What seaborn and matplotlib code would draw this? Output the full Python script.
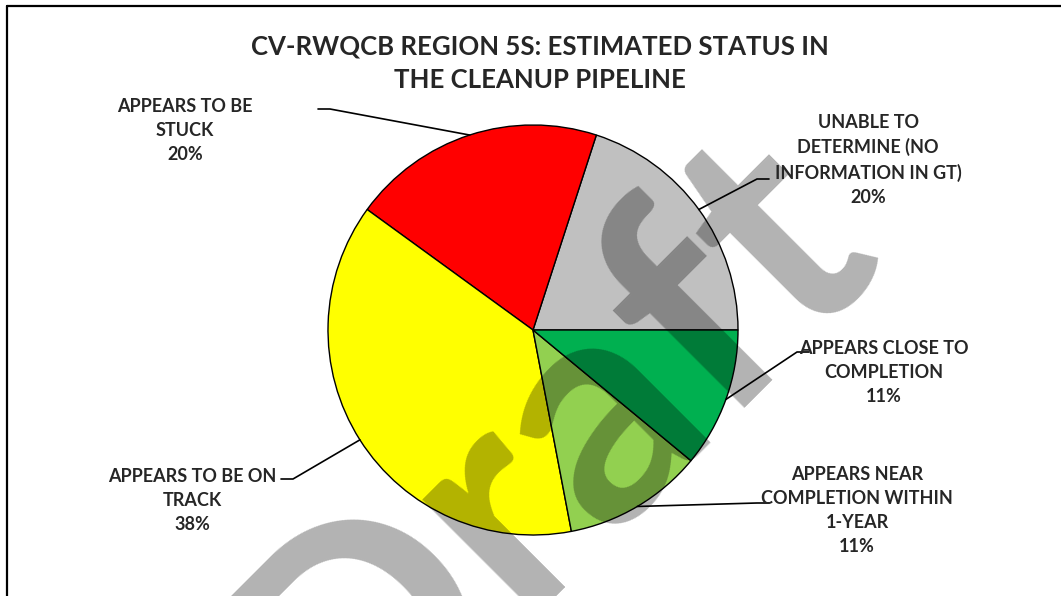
import numpy as np
import matplotlib
matplotlib.use("Agg")
import matplotlib.pyplot as plt
import seaborn as sns

# data
categories = [
    "UNABLE TO\nDETERMINE (NO\nINFORMATION IN GT)",
    "APPEARS TO BE\nSTUCK",
    "APPEARS TO BE ON\nTRACK",
    "APPEARS NEAR\nCOMPLETION WITHIN\n1-YEAR",
    "APPEARS CLOSE TO\nCOMPLETION",
]
shares = [20, 20, 38, 11, 11]
colors = ["#C0C0C0", "#FF0000", "#FFFF00", "#92D050", "#00B050"]
title = "CV-RWQCB REGION 5S: ESTIMATED STATUS IN\nTHE CLEANUP PIPELINE"

# label placement (pixels, y measured from the top) and leader elbow
label_pos = [(868, 160), (185, 131), (192, 500), (857, 510), (884, 372)]
elbows = [(757, 179), (330, 109), (293, 479), (757, 503), (797, 352)]
elbow_side = [1, -1, -1, 1, 1]

W, H = 1061, 596
sns.set_theme(style="white")
plt.rcParams["font.family"] = ["Lato", "DejaVu Sans"]

fig = plt.figure(figsize=(W / 100, H / 100), dpi=100)
ax = fig.add_axes([0, 0, 1, 1])

cx, cy, r = 533, H - 330, 205
wedges, _ = ax.pie(shares, colors=colors, startangle=0, counterclock=True,
                   center=(cx, cy), radius=r,
                   wedgeprops=dict(edgecolor="black", linewidth=1.0))
ax.set_xlim(0, W)
ax.set_ylim(0, H)
ax.set_aspect("equal")
ax.axis("off")

for w, lab, val, (lx, ly), (ex, ey), side in zip(wedges, categories, shares,
                                               label_pos, elbows, elbow_side):
    mid = np.deg2rad((w.theta1 + w.theta2) / 2)
    px, py = cx + r * np.cos(mid), cy + r * np.sin(mid)
    ax.plot([px, ex, ex + side * 12], [py, H - ey, H - ey],
            color="black", lw=1.2, zorder=4)
    ax.text(lx, H - ly, f"{lab}\n{val}%", ha="center", va="center",
            fontsize=13, fontweight="bold", linespacing=1.5, zorder=5)

ax.text(540, H - 63, title, ha="center", va="center", fontsize=18.5,
        fontweight="bold", linespacing=1.45)

# watermark
ax.text(548, H - 449, "Draft", ha="center", va="center", fontsize=230,
        fontweight="bold", rotation=45, color="black", alpha=0.3, zorder=3,
        clip_on=True)

# chart border (left and top edges visible)
fig.add_artist(plt.Line2D([6.5 / W, 6.5 / W], [0, 1 - 5.5 / H],
                          transform=fig.transFigure, color="black", lw=1.6))
fig.add_artist(plt.Line2D([6.5 / W, 1], [1 - 5.5 / H, 1 - 5.5 / H],
                          transform=fig.transFigure, color="black", lw=1.6))

fig.savefig("out.png", dpi=100)
